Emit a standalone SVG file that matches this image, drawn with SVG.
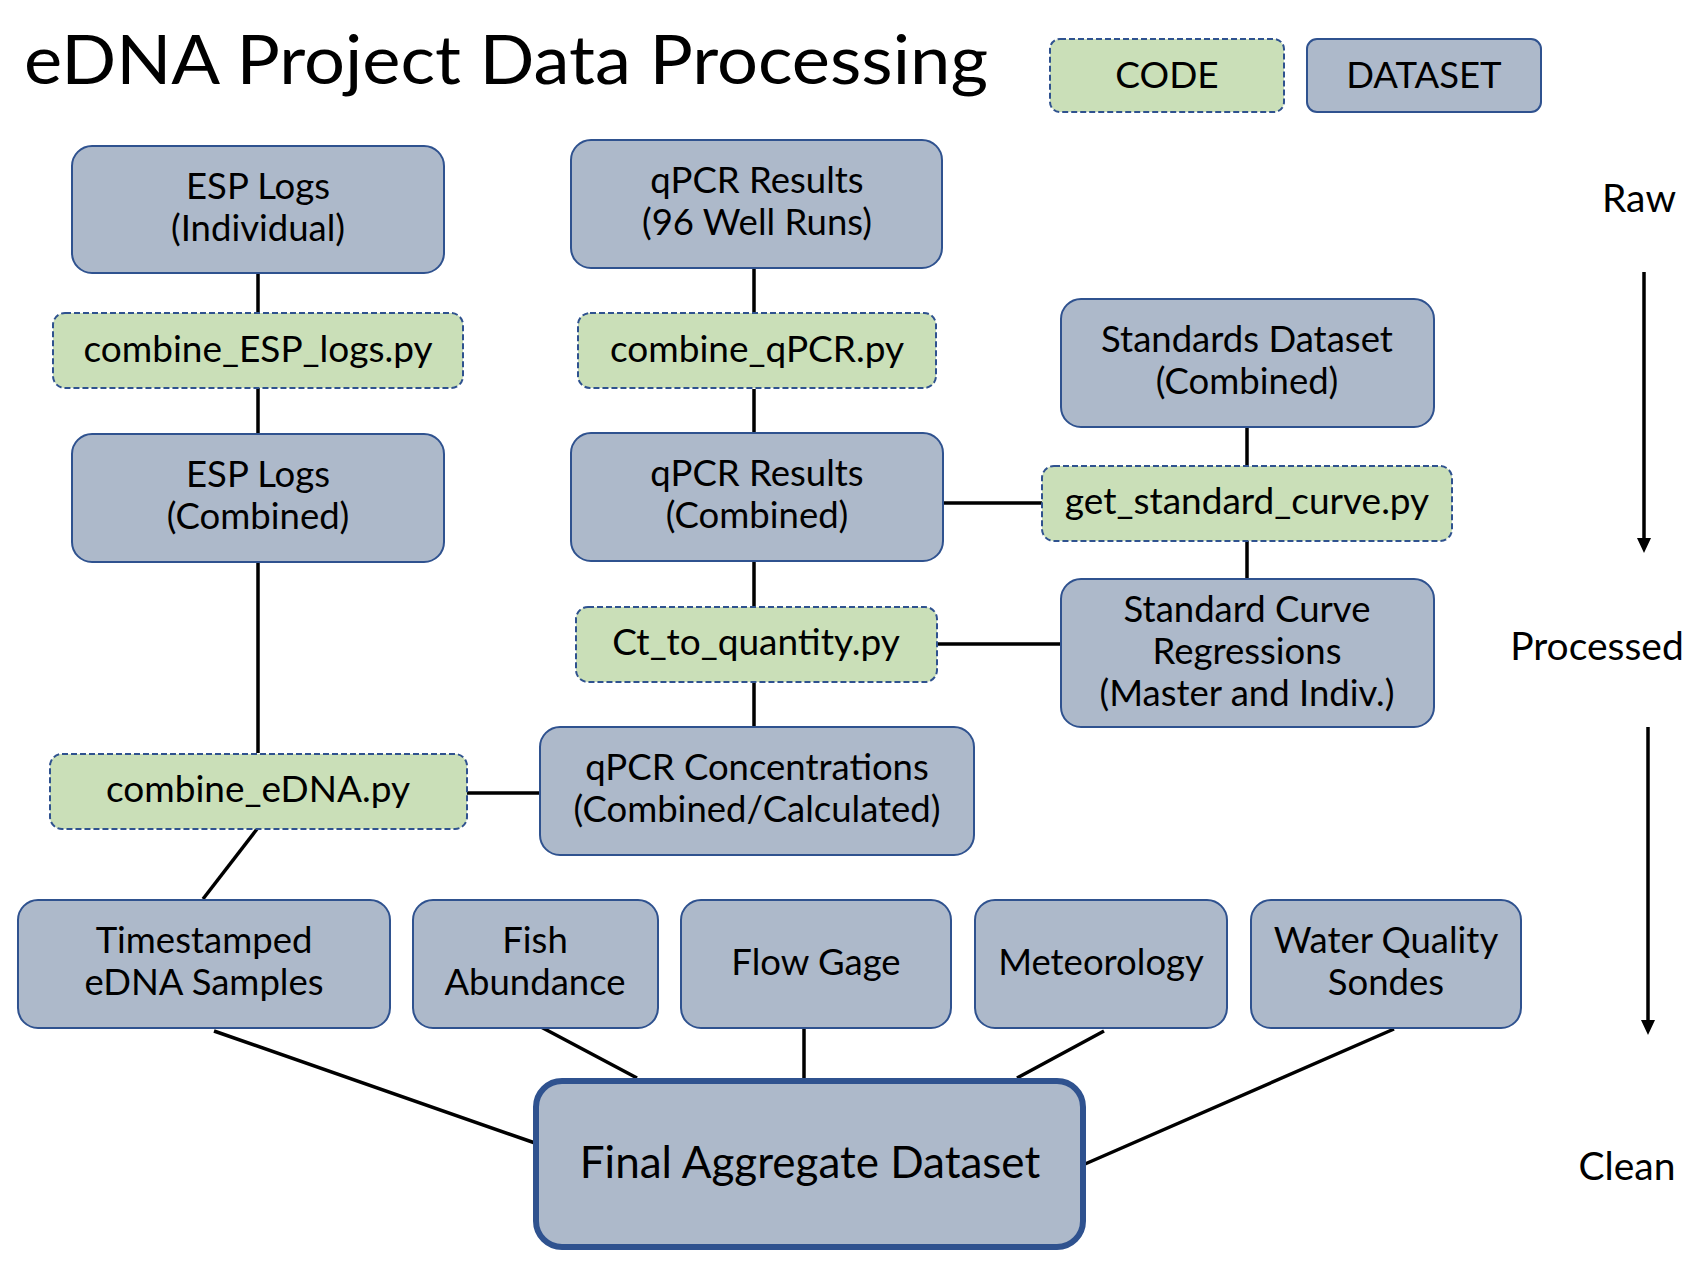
<svg xmlns="http://www.w3.org/2000/svg" width="1706" height="1270" viewBox="0 0 1706 1270">
<style>
text{font-family:Lato,"Open Sans","Liberation Sans",sans-serif;fill:#000;text-anchor:middle}
.ds{fill:#adb9ca;stroke:#2f528f;stroke-width:2}
.cd{fill:#cadfb8;stroke:#2f528f;stroke-width:2;stroke-dasharray:6 3}
.t{font-size:36.5px}
.c{font-size:37px}
.ln{stroke:#000;stroke-width:3.5;fill:none}
.side{font-size:39px}
</style>
<rect width="1706" height="1270" fill="#fff"/>
<text x="24" y="84" style="font-size:68px;text-anchor:start" textLength="964" lengthAdjust="spacingAndGlyphs">eDNA Project Data Processing</text>

<g id="connectors">
<path class="ln" d="M258 273V313M258 388V434M258 562V753"/>
<path class="ln" d="M754 268V312M754 389V433M754 561V606M754 682V727"/>
<path class="ln" d="M1247 427V465M1247 541V579"/>
<path class="ln" d="M943 503H1042M937 644H1061M467 793H540"/>
<path class="ln" d="M257 829L203 899"/>
<path class="ln" d="M214 1031L535 1143M541 1027L637 1078M804 1028V1078M1104 1031L1017 1078M1394 1029L1085 1164"/>
<line class="ln" x1="1644" y1="272" x2="1644" y2="538"/>
<path d="M1637 538H1651L1644 553z"/>
<line class="ln" x1="1648" y1="727" x2="1648" y2="1020"/>
<path d="M1641 1020H1655L1648 1035z"/>
</g>

<g id="legend-code"><rect class="cd" x="1050" y="39" width="234" height="73" rx="10"/><text class="c" x="1167" y="88">CODE</text></g>
<g id="legend-dataset"><rect class="ds" x="1307" y="39" width="234" height="73" rx="10"/><text class="t" x="1424" y="88">DATASET</text></g>

<g id="esp-individual"><rect class="ds" x="72" y="146" width="372" height="127" rx="20"/><text class="t" x="258" y="199">ESP Logs</text><text class="t" x="258" y="241">(Individual)</text></g>
<g id="qpcr-results-raw"><rect class="ds" x="571" y="140" width="371" height="128" rx="20"/><text class="t" x="757" y="193">qPCR Results</text><text class="t" x="757" y="235">(96 Well Runs)</text></g>
<g id="combine-esp"><rect class="cd" x="53" y="313" width="410" height="75" rx="12"/><text class="c" x="258" y="362">combine_ESP_logs.py</text></g>
<g id="combine-qpcr"><rect class="cd" x="578" y="313" width="358" height="75" rx="12"/><text class="c" x="757" y="362">combine_qPCR.py</text></g>
<g id="standards-dataset"><rect class="ds" x="1061" y="299" width="373" height="128" rx="20"/><text class="t" x="1247" y="352">Standards Dataset</text><text class="t" x="1247" y="394">(Combined)</text></g>
<g id="esp-combined"><rect class="ds" x="72" y="434" width="372" height="128" rx="20"/><text class="t" x="258" y="487">ESP Logs</text><text class="t" x="258" y="529">(Combined)</text></g>
<g id="qpcr-combined"><rect class="ds" x="571" y="433" width="372" height="128" rx="20"/><text class="t" x="757" y="486">qPCR Results</text><text class="t" x="757" y="528">(Combined)</text></g>
<g id="get-standard-curve"><rect class="cd" x="1042" y="466" width="410" height="75" rx="12"/><text class="c" x="1247" y="514">get_standard_curve.py</text></g>
<g id="ct-to-quantity"><rect class="cd" x="576" y="607" width="361" height="75" rx="12"/><text class="c" x="756" y="655">Ct_to_quantity.py</text></g>
<g id="standard-curve-regressions"><rect class="ds" x="1061" y="579" width="373" height="148" rx="20"/><text class="t" x="1247" y="622">Standard Curve</text><text class="t" x="1247" y="664">Regressions</text><text class="t" x="1247" y="706">(Master and Indiv.)</text></g>
<g id="combine-edna"><rect class="cd" x="50" y="754" width="417" height="75" rx="12"/><text class="c" x="258" y="802">combine_eDNA.py</text></g>
<g id="qpcr-concentrations"><rect class="ds" x="540" y="727" width="434" height="128" rx="20"/><text class="t" x="757" y="780">qPCR Concentrations</text><text class="t" x="757" y="822">(Combined/Calculated)</text></g>

<g id="timestamped"><rect class="ds" x="18" y="900" width="372" height="128" rx="20"/><text class="t" x="204" y="953">Timestamped</text><text class="t" x="204" y="995">eDNA Samples</text></g>
<g id="fish"><rect class="ds" x="413" y="900" width="245" height="128" rx="20"/><text class="t" x="535" y="953">Fish</text><text class="t" x="535" y="995">Abundance</text></g>
<g id="flow-gage"><rect class="ds" x="681" y="900" width="270" height="128" rx="20"/><text class="t" x="816" y="975">Flow Gage</text></g>
<g id="meteorology"><rect class="ds" x="975" y="900" width="252" height="128" rx="20"/><text class="t" x="1101" y="975">Meteorology</text></g>
<g id="water-quality"><rect class="ds" x="1251" y="900" width="270" height="128" rx="20"/><text class="t" x="1386" y="953">Water Quality</text><text class="t" x="1386" y="995">Sondes</text></g>
<g id="final"><rect x="536" y="1081" width="547" height="166" rx="26" fill="#adb9ca" stroke="#2f528f" stroke-width="6"/><text x="810" y="1178" style="font-size:44px">Final Aggregate Dataset</text></g>

<g id="stages">
<text class="side" x="1639" y="212">Raw</text>
<text class="side" x="1597" y="660">Processed</text>
<text class="side" x="1627" y="1180">Clean</text>
</g>
</svg>
